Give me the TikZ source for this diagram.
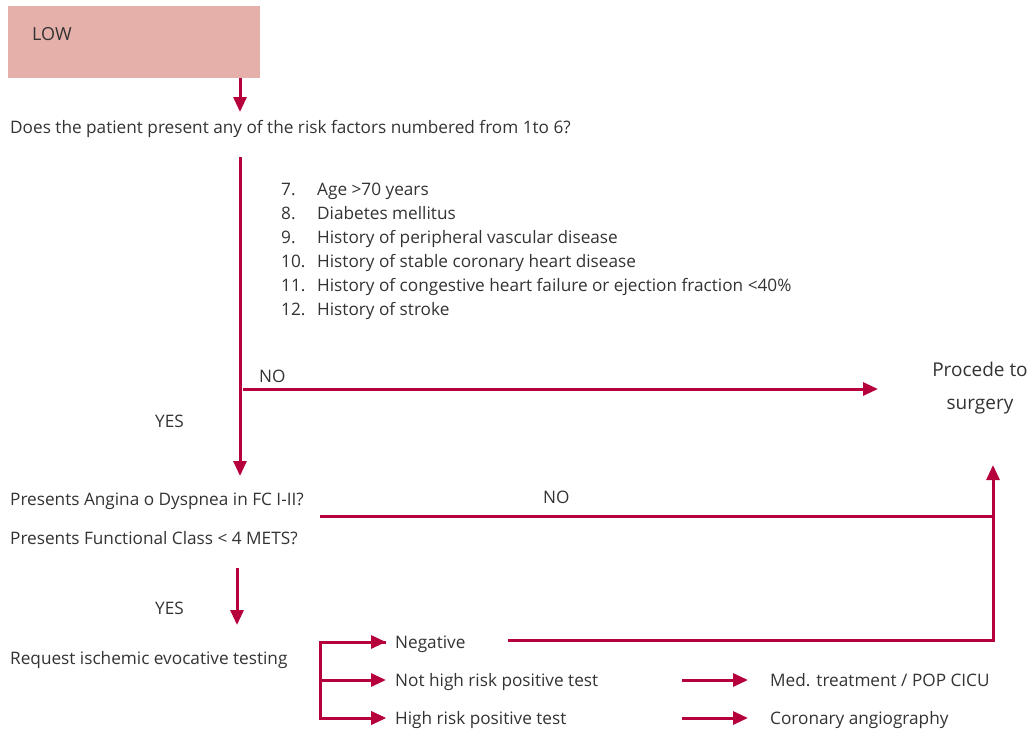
\documentclass[tikz,border=0pt]{standalone}
\usepackage{fontspec}
\setmainfont{Open Sans}
\usetikzlibrary{arrows.meta}
\definecolor{boxfill}{HTML}{E6B0AA}
\definecolor{arr}{HTML}{B5003C}
\definecolor{txt}{HTML}{333333}
\begin{document}
\begin{tikzpicture}[x=1pt,y=-1pt,
  lbl/.style={anchor=base west,inner sep=0pt,text=txt,font=\fontsize{17.2}{20}\selectfont},
  con/.style={draw=arr,line width=3pt},
  arrow/.style={con,-{Triangle[length=15pt,width=13pt]}},
]
\useasboundingbox (0,0) rectangle (1034,729);
% LOW box
\node[fill=boxfill,minimum width=252pt,minimum height=72pt,inner sep=0pt,anchor=north west] (low) at (8,6) {};
\node[lbl,font=\fontsize{18}{20}\selectfont] (lowt) at (32,40) {LOW};
% question
\node[lbl] (q1) at (10,133) {Does the patient present any of the risk factors numbered from 1to 6?};
\coordinate (q1a) at (240,112);
\draw[arrow] (low.south -| q1a) -- (q1a);
% list
\foreach \n/\t/\y in {7./Age >70 years/195, 8./Diabetes mellitus/219, 9./History of peripheral vascular disease/243, 10./History of stable coronary heart disease/267, 11./History of congestive heart failure or ejection fraction <40\%/291, 12./History of stroke/315}{
  \node[lbl] at (281,\y) {\n};
  \node[lbl] at (317,\y) {\t};
}
% main vertical
\coordinate (v1) at (240,157);
\coordinate (v1e) at (240,476);
\draw[arrow] (v1) -- (v1e);
\coordinate (no1s) at (243,389);
\coordinate (no1e) at (878,389);
\draw[arrow] (no1s) -- (no1e);
\node[lbl] (no1) at (259,382) {NO};
\node[lbl,anchor=base,font=\fontsize{19}{22}\selectfont] (proc1) at (980,376) {Procede to};
\node[lbl,anchor=base,font=\fontsize{19}{22}\selectfont] (proc2) at (980,409) {surgery};
\node[lbl] (yes1) at (155,427) {YES};
% second question
\node[lbl] (q2) at (10,505) {Presents Angina o Dyspnea in FC I-II?};
\node[lbl] (q3) at (10,544) {Presents Functional Class < 4 METS?};
\node[lbl] (no2) at (543,503) {NO};
\coordinate (n2s) at (320,516);
\coordinate (n2c) at (993,516);
\coordinate (up) at (993,465);
\coordinate (negs) at (508,640);
\draw[con] (n2s) -- (n2c);
\draw[arrow] (negs) -| (up);
% yes 2
\coordinate (y2s) at (237,568);
\coordinate (y2e) at (237,625);
\draw[arrow] (y2s) -- (y2e);
\node[lbl] (yes2) at (155,614) {YES};
\node[lbl] (req) at (10,664) {Request ischemic evocative testing};
% bracket
\coordinate (b1) at (320,642);
\coordinate (b2) at (320,680);
\coordinate (b3) at (320,718);
\node[lbl] (neg) at (395,648) {Negative};
\node[lbl] (nhr) at (395,686) {Not high risk positive test};
\node[lbl] (hr) at (395,724) {High risk positive test};
\draw[arrow] (386,642) -| (b3) -- (386,718);
\draw[arrow] (b2) -- (386,680);
\draw[arrow] (b3) -- (386,718);
% right column
\node[lbl] (med) at (770,686) {Med. treatment / POP CICU};
\node[lbl] (cor) at (770,724) {Coronary angiography};
\draw[arrow] (682,680) -- (748,680);
\draw[arrow] (682,718) -- (748,718);
\draw[arrow] (b1) -- (386,642);
\end{tikzpicture}
\end{document}
